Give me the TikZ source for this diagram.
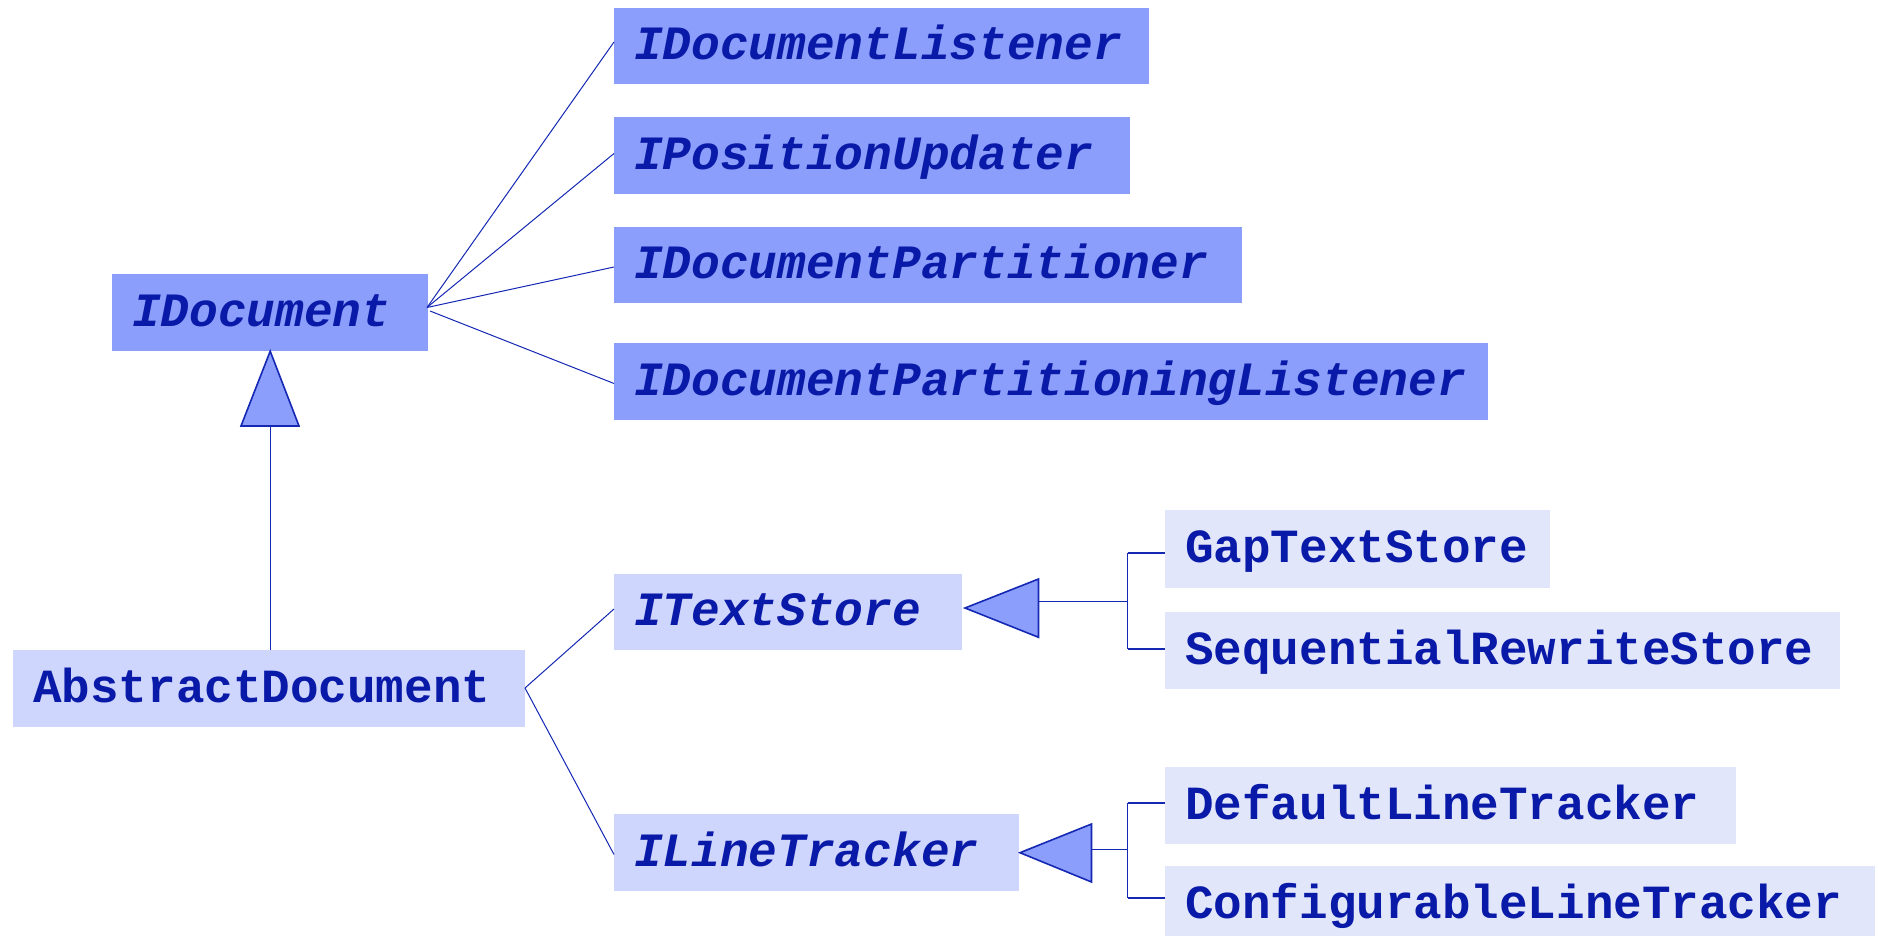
\documentclass[tikz,border=0pt]{standalone}
\usepackage{fontspec}
\setmonofont{Liberation Mono}
\definecolor{darkbox}{RGB}{140,158,251}
\definecolor{midbox}{RGB}{207,214,253}
\definecolor{lightbox}{RGB}{225,230,251}
\definecolor{ink}{RGB}{10,26,168}
\definecolor{wire}{RGB}{20,40,180}
\tikzset{
  umlbox/.style={rectangle, anchor=west, inner xsep=20pt, inner ysep=0pt,
    text height=27.5pt, text depth=0pt, align=left, text=ink,
    font=\fontsize{47.6}{50}\selectfont\ttfamily\bfseries},
  iface/.style={umlbox, fill=darkbox, font=\fontsize{47.8}{50}\selectfont\ttfamily\bfseries\itshape},
  ifacemid/.style={umlbox, fill=midbox, font=\fontsize{47.8}{50}\selectfont\ttfamily\bfseries\itshape},
  classmid/.style={umlbox, fill=midbox},
  classlight/.style={umlbox, fill=lightbox},
  assoc/.style={draw=wire, line width=1pt},
  tree/.style={draw=wire, line width=1.6pt},
  gen/.style={draw=wire, fill=darkbox, line width=1.6pt, line join=miter},
}
\begin{document}
\begin{tikzpicture}[x=1pt, y=-1pt]
\useasboundingbox[fill=white] (0,0) rectangle (1878,936);
% interfaces of IDocument
\node[iface, minimum height=76pt, text width=495pt] (idl) at (614,46) {IDocumentListener};
\node[iface, minimum height=77pt, text width=476pt] (ipu) at (614,155.5) {IPositionUpdater};
\node[iface, minimum height=76pt, text width=588pt] (idp) at (614,265) {IDocumentPartitioner};
\node[iface, minimum height=77pt, text width=834pt] (idpl) at (614,381.5) {IDocumentPartitioningListener};
\node[iface, minimum height=77pt, text width=276pt] (idoc) at (112,312.5) {IDocument};
% abstract document and its parts
\node[classmid, minimum height=77pt, text width=472pt] (abs) at (13,688.5) {AbstractDocument};
\node[ifacemid, minimum height=76pt, text width=308pt] (its) at (614,612) {ITextStore};
\node[ifacemid, minimum height=77pt, text width=365pt] (ilt) at (614,852.5) {ILineTracker};
% implementations
\node[classlight, minimum height=78pt, text width=345pt] (gap) at (1165,549) {GapTextStore};
\node[classlight, minimum height=77pt, text width=635pt] (seq) at (1165,650.5) {SequentialRewriteStore};
\node[classlight, minimum height=77pt, text width=531pt] (dlt) at (1165,805.5) {DefaultLineTracker};
\node[classlight, minimum height=78pt, text width=670pt] (clt) at (1165,905) {ConfigurableLineTracker};
% associations from IDocument
\coordinate (idocR) at (427,307.5);
\coordinate (idocR2) at (430,311);
\draw[assoc] (idocR) -- ([yshift=4pt]idl.west);
\draw[assoc] (idocR) -- ([yshift=2pt]ipu.west);
\draw[assoc] (idocR) -- ([yshift=-2pt]idp.west);
\draw[assoc] (idocR2) -- ([yshift=-2pt]idpl.west);
% generalization AbstractDocument -> IDocument
\coordinate (t1base) at (270,426);
\draw[gen] (idoc.south) -- (299,426) -- (241,426) -- cycle;
\draw[assoc] (t1base) -- (abs.north -| t1base);
% associations from AbstractDocument
\coordinate (absR) at (525,688);
\draw[assoc] (absR) -- ([yshift=3pt]its.west);
\draw[assoc] (absR) -- ([yshift=-2pt]ilt.west);
% generalization tree for ITextStore
\coordinate (ts1) at (1038.5,601.3);
\coordinate (ts2) at (1127.5,601.3);
\coordinate (ts3) at (1127.5,553);
\coordinate (ts4) at (1127.5,649);
\draw[tree] (ts3) -- (ts4);
\draw[tree] (ts1) -- (ts2);
\draw[tree] (ts3) -- (ts3 -| gap.west);
\draw[tree] (ts4) -- (ts4 -| seq.west);
\draw[gen] (965,608) -- (1038.5,579) -- (1038.5,637.3) -- cycle;
% generalization tree for ILineTracker
\coordinate (lt1) at (1091.5,849.3);
\coordinate (lt2) at (1127.5,849.3);
\coordinate (lt3) at (1127.5,803);
\coordinate (lt4) at (1127.5,898);
\draw[tree] (lt3) -- (lt4);
\draw[tree] (lt1) -- (lt2);
\draw[tree] (lt3) -- (lt3 -| dlt.west);
\draw[tree] (lt4) -- (lt4 -| clt.west);
\draw[gen] (1020,852.7) -- (1091.5,824) -- (1091.5,882) -- cycle;
\end{tikzpicture}
\end{document}
